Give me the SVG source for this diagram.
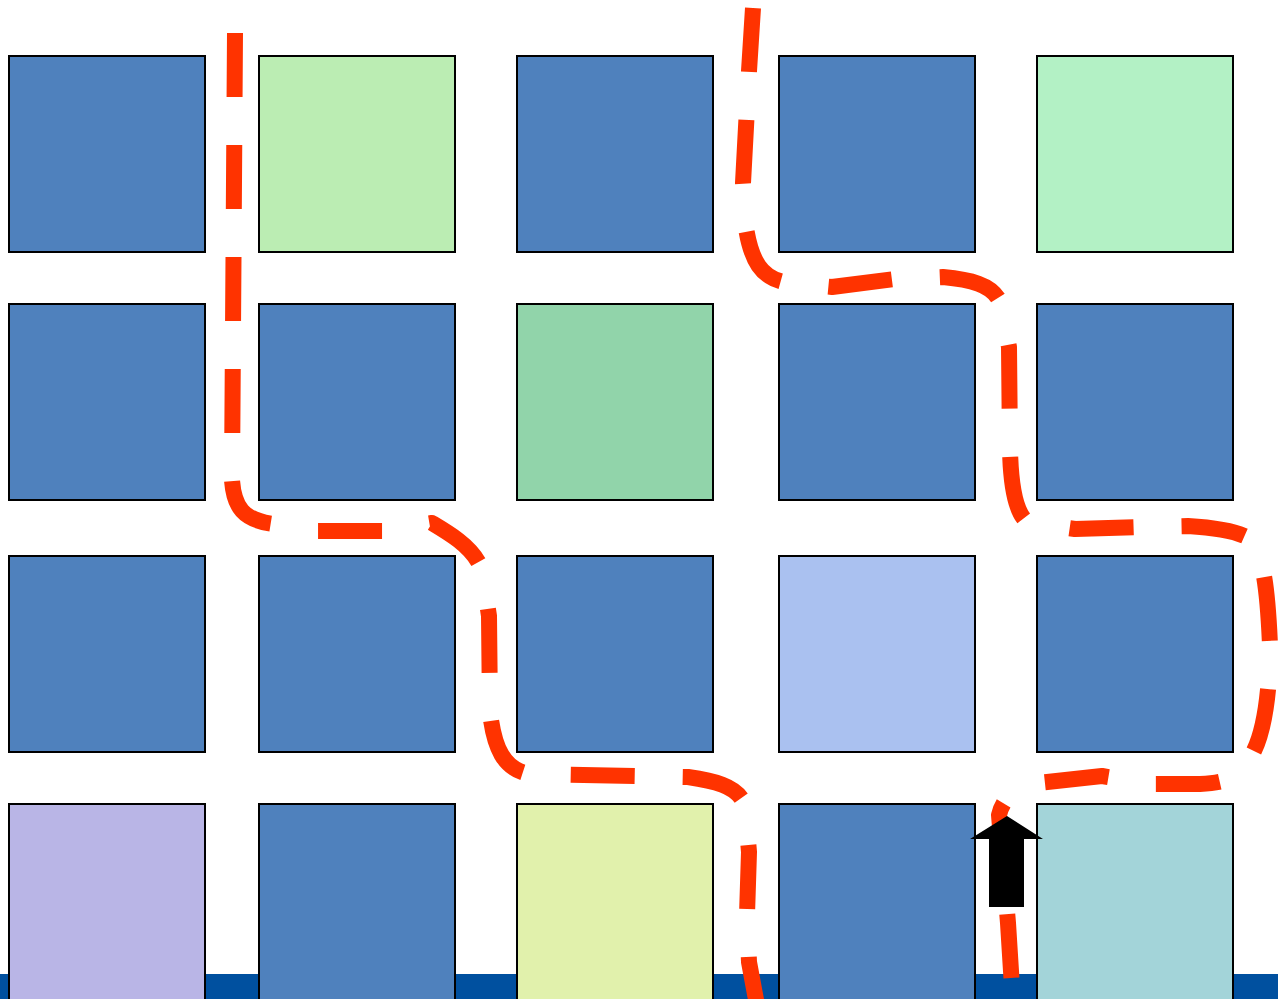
<svg xmlns="http://www.w3.org/2000/svg" width="1278" height="999" viewBox="0 0 1278 999">
<style>
.sq{stroke:#000;stroke-width:2}
.b{fill:#4F81BD}
.route{fill:none;stroke:#FF3300;stroke-width:16;stroke-dasharray:64 48;stroke-linejoin:round}
</style>
<rect x="0" y="0" width="1278" height="999" fill="#fff"/>
<rect id="bar" x="0" y="974" width="1278" height="25" fill="#00509F"/>
<g id="r1c1"><rect class="sq b" x="9" y="56" width="196" height="196"/></g>
<g id="r1c2"><rect class="sq" x="259" y="56" width="196" height="196" fill="#BBEDB3"/></g>
<g id="r1c3"><rect class="sq b" x="517" y="56" width="196" height="196"/></g>
<g id="r1c4"><rect class="sq b" x="779" y="56" width="196" height="196"/></g>
<g id="r1c5"><rect class="sq" x="1037" y="56" width="196" height="196" fill="#B3F1C5"/></g>
<g id="r2c1"><rect class="sq b" x="9" y="304" width="196" height="196"/></g>
<g id="r2c2"><rect class="sq b" x="259" y="304" width="196" height="196"/></g>
<g id="r2c3"><rect class="sq" x="517" y="304" width="196" height="196" fill="#91D4AA"/></g>
<g id="r2c4"><rect class="sq b" x="779" y="304" width="196" height="196"/></g>
<g id="r2c5"><rect class="sq b" x="1037" y="304" width="196" height="196"/></g>
<g id="r3c1"><rect class="sq b" x="9" y="556" width="196" height="196"/></g>
<g id="r3c2"><rect class="sq b" x="259" y="556" width="196" height="196"/></g>
<g id="r3c3"><rect class="sq b" x="517" y="556" width="196" height="196"/></g>
<g id="r3c4"><rect class="sq" x="779" y="556" width="196" height="196" fill="#AAC1F0"/></g>
<g id="r3c5"><rect class="sq b" x="1037" y="556" width="196" height="196"/></g>
<g id="r4c1"><rect class="sq" x="9" y="804" width="196" height="200" fill="#B9B5E6"/></g>
<g id="r4c2"><rect class="sq b" x="259" y="804" width="196" height="200"/></g>
<g id="r4c3"><rect class="sq" x="517" y="804" width="196" height="200" fill="#E1F1AC"/></g>
<g id="r4c4"><rect class="sq b" x="779" y="804" width="196" height="200"/></g>
<g id="r4c5"><rect class="sq" x="1037" y="804" width="196" height="200" fill="#A3D4D9"/></g>
<g id="connectors">
<path class="route" d="M 235,33 L 232,480 C 234,508 244,520 273,524 L 305,531 L 385,531 L 432,523 C 452,535 474,548 482,570 L 489,616 L 490,712 C 494,748 504,770 530,774 L 688,777 C 722,782 738,788 745,805 L 749,852 L 747,915 L 749,962 L 757,1005"/>
<path class="route" d="M 753,8 L 749,71 L 743,183 L 746,228 C 752,265 764,280 790,283 L 832,287 L 895,279 L 943,277 C 975,280 993,286 1000,302 L 1009,347 L 1010,450 C 1011,490 1016,512 1027,522 L 1075,529 L 1139,527 L 1188,526 C 1220,528 1240,532 1252,540 C 1265,560 1268,600 1270,645 C 1270,700 1262,740 1250,758 C 1240,780 1220,783 1200,784 L 1150,784 L 1102,776 L 1038,783 C 1015,788 1003,798 999,815 L 1008,923 L 1012,987"/>
<polygon id="arrow" points="1007,816 1043,839 1024,839 1024,907 989,907 989,839 970,839" fill="#000"/>
</g>
</svg>
